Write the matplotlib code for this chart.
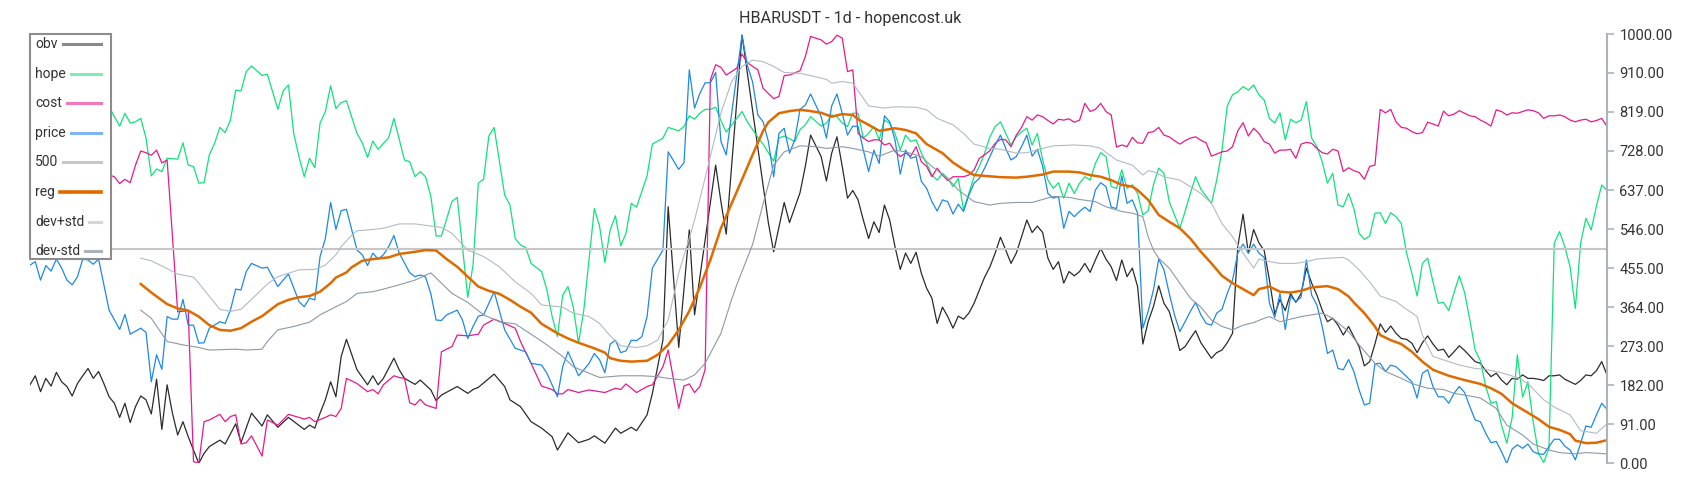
import matplotlib
matplotlib.use("Agg")
import matplotlib.pyplot as plt
from matplotlib.patches import Rectangle
from matplotlib.lines import Line2D

plt.rcParams['font.family'] = ['Roboto', 'DejaVu Sans']

# (day, value) vertices, 300 daily candles
obv = [(0,183),(1,204),(2,167),(3,198),(4,180),(5,212),(6,190),(7,179),(8,157),(9,186),(10,204),(11,221),(12,198),(13,214),(14,186),(15,155),(16,140),(17,107),(18,140),(19,95),(20,132),(21,157),(22,148),(23,115),(24,196),(25,79),(26,183),(27,117),(28,66),(29,97),(30,62),(31,31),(32,0),(33,23),(34,39),(36,54),(37,45),(39,92),(40,48),(42,117),(44,87),(45,113),(47,84),(49,107),(52,79),(53,89),(54,82),(55,117),(56,148),(57,190),(58,155),(59,249),(60,289),(62,218),(64,183),(65,204),(66,183),(67,198),(69,245),(70,218),(71,198),(73,184),(74,194),(76,171),(77,146),(78,159),(81,179),(83,163),(84,172),(85,177),(88,208),(90,179),(91,148),(93,132),(95,97),(97,82),(99,62),(100,31),(102,71),(104,48),(106,56),(107,64),(109,47),(111,82),(112,70),(114,84),(115,76),(117,113),(118,163),(120,287),(121,598),(123,270),(125,544),(126,346),(130,695),(131,610),(132,534),(135,998),(140,560),(141,493),(143,608),(144,561),(146,631),(147,692),(148,765),(150,715),(151,658),(152,723),(153,761),(154,692),(155,618),(156,636),(157,614),(158,567),(159,524),(160,563),(161,538),(162,602),(163,567),(164,505),(165,452),(166,490),(167,466),(168,492),(169,443),(170,408),(171,385),(172,326),(173,364),(174,342),(175,315),(176,343),(177,336),(178,350),(179,373),(180,404),(181,434),(182,458),(183,490),(184,527),(185,497),(186,466),(187,490),(188,528),(189,567),(190,538),(191,553),(192,538),(193,478),(194,452),(195,470),(196,420),(197,447),(198,437),(199,447),(200,466),(201,445),(202,474),(203,501),(204,476),(205,458),(206,426),(207,474),(208,435),(209,455),(210,412),(211,278),(212,330),(213,365),(214,414),(215,373),(216,354),(217,311),(218,263),(219,272),(220,291),(221,309),(222,281),(224,245),(225,258),(226,264),(227,281),(228,303),(229,505),(230,581),(231,490),(232,545),(233,514),(234,496),(235,427),(236,348),(237,382),(238,356),(239,396),(240,375),(241,396),(242,455),(243,420),(244,392),(245,357),(246,330),(247,338),(248,322),(249,299),(250,319),(251,295),(252,272),(253,227),(254,237),(255,278),(256,325),(257,305),(258,320),(259,303),(260,291),(261,289),(262,280),(263,258),(264,281),(265,297),(266,278),(267,263),(268,266),(269,247),(270,260),(271,274),(272,263),(273,250),(274,237),(275,233),(276,216),(277,202),(278,210),(279,194),(280,183),(281,198),(282,196),(283,206),(284,198),(285,198),(286,196),(287,193),(288,204),(289,204),(290,206),(291,196),(292,190),(293,184),(294,193),(295,206),(296,204),(297,216),(298,237),(299,206)]

hope = [(0,830),(2,850),(4,820),(6,855),(8,840),(10,865),(12,845),(14,840),(15,831),(16,808),(17,786),(18,816),(19,793),(20,796),(21,804),(22,758),(23,670),(24,686),(25,680),(26,711),(28,709),(29,747),(30,695),(31,692),(32,653),(33,654),(34,719),(35,746),(36,783),(37,771),(38,800),(39,870),(40,868),(41,913),(42,926),(43,915),(44,904),(45,907),(47,825),(48,868),(49,882),(50,769),(51,715),(52,668),(53,711),(54,689),(55,793),(56,820),(57,880),(58,827),(59,841),(60,845),(62,769),(63,747),(64,713),(65,751),(66,732),(68,759),(69,804),(70,755),(71,707),(72,703),(73,668),(74,680),(75,668),(76,622),(77,530),(78,530),(80,610),(81,620),(83,387),(84,462),(85,653),(86,662),(87,763),(88,783),(90,625),(91,602),(92,524),(93,509),(94,503),(95,466),(97,447),(98,404),(99,342),(100,295),(101,392),(102,412),(103,365),(104,280),(105,357),(107,594),(108,552),(109,468),(110,544),(111,577),(112,507),(113,536),(114,606),(115,597),(117,670),(118,744),(120,758),(121,783),(123,775),(124,785),(125,810),(126,802),(127,816),(128,825),(129,825),(130,830),(131,799),(132,772),(135,820),(136,796),(138,760),(139,744),(141,704),(142,758),(143,763),(145,750),(146,778),(147,789),(148,808),(150,786),(151,793),(152,812),(153,808),(154,793),(155,785),(156,816),(157,816),(158,758),(159,769),(160,785),(161,754),(162,800),(163,793),(164,769),(165,730),(166,765),(167,750),(168,754),(169,723),(170,699),(171,672),(172,660),(173,676),(174,664),(175,645),(176,664),(177,591),(178,629),(179,668),(180,692),(181,723),(182,761),(183,785),(184,796),(185,769),(186,742),(187,761),(188,773),(189,781),(190,742),(191,769),(192,707),(193,660),(194,641),(195,654),(196,618),(197,653),(198,629),(199,653),(200,668),(201,660),(202,699),(203,724),(204,715),(205,645),(206,641),(207,684),(208,641),(209,649),(210,629),(211,579),(212,589),(213,649),(214,688),(215,676),(216,610),(217,579),(218,548),(219,587),(220,629),(221,668),(222,639),(224,606),(225,660),(226,730),(227,833),(228,859),(229,866),(230,878),(231,870),(232,882),(233,859),(234,847),(235,804),(236,793),(237,817),(238,754),(239,802),(240,794),(241,800),(242,843),(243,758),(244,738),(245,703),(246,653),(247,676),(248,602),(249,598),(250,629),(251,594),(252,536),(253,522),(254,530),(255,583),(256,584),(257,559),(258,584),(259,575),(260,559),(261,490),(262,443),(263,390),(264,466),(265,478),(266,423),(267,373),(268,375),(269,356),(270,398),(271,437),(272,398),(273,334),(274,264),(275,239),(276,179),(277,140),(278,144),(279,89),(280,47),(281,105),(282,253),(283,154),(284,190),(285,97),(286,23),(287,2),(288,35),(289,513),(290,540),(291,505),(292,458),(293,361),(294,513),(295,571),(296,544),(297,600),(298,649),(299,636)]

cost = [(0,690),(3,700),(6,680),(9,700),(12,690),(14,675),(15,672),(16,668),(17,652),(18,662),(19,654),(20,695),(21,728),(22,724),(23,718),(24,730),(25,700),(26,707),(27,530),(28,353),(30,356),(31,4),(32,0),(33,97),(34,101),(36,114),(37,97),(38,109),(39,113),(40,45),(41,48),(42,64),(44,17),(45,101),(47,89),(49,114),(51,107),(52,103),(53,107),(54,97),(56,107),(57,113),(58,109),(59,128),(60,198),(62,186),(64,167),(65,172),(66,162),(67,183),(69,204),(70,200),(71,198),(72,141),(73,136),(74,149),(75,136),(77,128),(78,260),(80,272),(81,299),(83,297),(85,301),(86,322),(88,336),(90,326),(92,315),(93,284),(94,258),(95,233),(97,180),(99,172),(100,162),(101,162),(102,172),(104,165),(106,171),(108,167),(109,165),(111,175),(112,172),(113,185),(115,165),(117,179),(118,183),(120,225),(121,264),(123,128),(124,180),(125,185),(126,165),(127,179),(128,218),(129,894),(130,929),(131,923),(132,905),(134,921),(135,954),(136,934),(138,917),(139,874),(141,850),(142,855),(143,904),(144,905),(146,915),(147,948),(148,995),(150,987),(151,977),(152,983),(153,998),(154,991),(155,913),(156,917),(157,769),(158,758),(159,750),(160,754),(161,754),(162,742),(163,746),(164,727),(165,715),(166,723),(167,716),(168,738),(169,703),(170,692),(171,668),(172,688),(173,672),(174,659),(175,668),(177,668),(178,672),(179,684),(180,711),(181,719),(182,729),(183,746),(184,755),(185,754),(186,738),(187,765),(188,783),(189,808),(190,800),(191,812),(192,808),(193,799),(194,791),(195,802),(196,800),(197,803),(198,795),(199,800),(200,839),(201,820),(202,825),(203,839),(204,820),(205,812),(206,737),(207,742),(208,738),(209,760),(210,747),(211,746),(212,771),(213,773),(214,783),(215,765),(216,761),(217,752),(218,744),(219,752),(220,758),(221,761),(222,753),(223,747),(224,716),(226,726),(227,728),(228,738),(229,775),(230,794),(231,763),(232,781),(233,769),(234,750),(235,744),(236,723),(237,730),(238,730),(239,732),(240,711),(241,744),(242,748),(243,746),(244,734),(245,724),(246,721),(247,732),(248,728),(249,680),(250,689),(251,682),(252,678),(253,662),(254,692),(255,695),(256,825),(257,817),(258,825),(259,796),(260,783),(261,781),(262,773),(263,768),(264,771),(265,795),(266,791),(267,786),(268,821),(269,810),(270,814),(271,822),(272,816),(273,810),(274,808),(275,800),(276,794),(277,786),(278,824),(279,820),(280,812),(281,817),(282,816),(283,820),(284,824),(285,822),(286,817),(287,804),(288,810),(289,810),(290,812),(291,808),(292,800),(293,796),(294,800),(295,802),(296,796),(297,799),(298,804),(299,785)]

price = [(0,462),(1,470),(2,427),(3,461),(4,448),(5,476),(6,455),(7,427),(8,416),(9,435),(10,476),(11,474),(12,464),(13,476),(15,357),(17,312),(18,347),(19,301),(21,315),(22,305),(23,190),(24,253),(25,219),(26,342),(27,336),(28,336),(29,382),(30,322),(31,322),(32,280),(33,281),(34,315),(36,330),(37,326),(38,357),(39,406),(40,404),(41,447),(42,466),(44,455),(45,457),(47,412),(48,427),(49,441),(51,377),(52,365),(53,385),(54,381),(55,482),(56,524),(57,608),(58,545),(59,589),(60,592),(62,497),(63,486),(64,461),(65,490),(66,476),(67,486),(68,505),(69,531),(70,490),(72,444),(73,435),(74,439),(75,434),(76,395),(77,334),(78,333),(79,346),(81,357),(82,334),(83,291),(84,319),(85,343),(86,346),(87,373),(88,400),(90,311),(92,268),(94,260),(95,233),(97,229),(98,210),(100,155),(101,225),(102,260),(103,233),(104,204),(105,218),(106,233),(107,256),(108,241),(109,211),(110,278),(111,287),(112,258),(113,262),(114,287),(115,286),(116,295),(117,342),(118,455),(120,497),(121,726),(123,685),(124,701),(125,917),(126,828),(127,862),(128,887),(129,887),(130,911),(131,750),(132,719),(135,998),(136,928),(137,889),(138,812),(139,796),(140,750),(141,668),(142,769),(143,781),(144,723),(145,754),(146,825),(147,835),(148,861),(150,808),(151,758),(152,833),(153,861),(154,816),(155,765),(156,786),(157,785),(158,730),(159,680),(160,730),(161,699),(162,810),(163,796),(164,754),(165,674),(166,730),(167,711),(168,715),(169,657),(170,641),(171,610),(172,588),(173,614),(174,610),(175,581),(176,604),(177,587),(178,625),(179,653),(180,664),(181,688),(182,715),(183,742),(184,765),(185,734),(186,707),(187,715),(188,738),(189,765),(190,716),(191,732),(192,692),(193,629),(194,618),(195,622),(196,548),(197,587),(198,575),(199,587),(200,597),(201,587),(202,637),(203,654),(204,645),(205,597),(206,594),(207,670),(208,606),(209,614),(210,583),(211,315),(212,354),(213,404),(214,476),(215,451),(216,396),(217,346),(218,307),(219,330),(220,354),(221,375),(222,346),(223,326),(224,322),(225,350),(226,359),(227,396),(228,427),(229,490),(230,511),(231,490),(232,511),(233,490),(234,480),(235,373),(236,340),(237,396),(238,312),(239,389),(240,377),(241,387),(242,474),(243,392),(244,369),(245,319),(246,256),(247,264),(248,221),(249,218),(250,242),(251,214),(252,171),(253,136),(254,140),(255,232),(256,233),(257,214),(258,229),(259,225),(260,214),(261,202),(262,190),(263,152),(264,210),(265,218),(266,179),(267,155),(268,155),(269,140),(270,163),(271,179),(272,165),(273,132),(274,101),(275,97),(276,70),(277,48),(278,51),(279,27),(280,0),(281,33),(282,43),(283,35),(284,45),(285,27),(286,22),(287,21),(288,39),(289,56),(290,56),(291,40),(292,31),(293,8),(294,47),(295,87),(296,84),(297,113),(298,140),(299,126)]

level = 500

reg = [(21,418),(23,398),(26,371),(28,361),(30,356),(32,342),(34,322),(36,311),(38,309),(40,315),(42,330),(44,343),(47,371),(49,381),(51,387),(53,390),(55,400),(57,420),(58,433),(60,445),(61,457),(63,472),(65,476),(68,480),(70,488),(73,493),(75,497),(77,496),(79,476),(81,458),(83,435),(85,412),(87,402),(89,395),(91,381),(93,365),(95,351),(97,325),(100,303),(102,291),(104,281),(107,268),(109,258),(110,245),(112,239),(114,237),(117,239),(119,253),(121,276),(123,311),(125,355),(127,410),(129,474),(131,548),(134,633),(137,719),(139,775),(140,795),(142,816),(144,821),(146,824),(148,821),(150,817),(152,808),(154,814),(156,812),(157,802),(159,789),(161,775),(164,781),(166,777),(168,769),(170,744),(173,723),(175,701),(177,685),(179,672),(182,669),(184,667),(187,666),(189,668),(192,673),(194,680),(197,680),(199,678),(201,672),(203,668),(205,660),(207,649),(209,645),(210,637),(212,614),(214,579),(216,563),(218,548),(220,524),(222,493),(224,466),(226,437),(228,420),(230,406),(232,392),(233,406),(235,412),(237,400),(239,398),(241,402),(243,410),(246,413),(248,406),(250,389),(251,375),(253,350),(255,319),(256,299),(258,287),(260,278),(262,260),(264,237),(266,218),(269,204),(272,194),(275,185),(277,175),(279,162),(281,140),(284,118),(286,103),(288,85),(290,78),(292,68),(293,53),(295,47),(297,48),(299,54)]

dev_hi = [(21,478),(23,472),(25,460),(28,441),(31,434),(32,420),(34,389),(36,359),(38,354),(40,359),(42,382),(45,418),(47,435),(49,443),(51,451),(54,452),(56,462),(58,486),(59,505),(61,532),(62,542),(65,545),(67,548),(70,558),(73,558),(76,553),(78,550),(80,536),(83,497),(86,482),(89,458),(92,423),(95,396),(97,369),(101,364),(103,350),(106,342),(108,326),(110,297),(112,274),(115,270),(117,274),(119,287),(121,334),(123,443),(126,567),(128,665),(131,816),(133,889),(135,925),(137,940),(139,936),(141,925),(143,911),(146,909),(149,901),(151,895),(152,886),(154,890),(156,886),(158,851),(159,833),(162,828),(164,831),(168,830),(170,824),(172,804),(175,789),(177,769),(179,744),(182,734),(184,732),(187,723),(189,724),(192,734),(194,740),(198,742),(201,740),(203,734),(206,707),(209,695),(211,672),(212,682),(213,680),(215,668),(218,660),(220,645),(222,629),(224,606),(226,559),(228,528),(230,490),(232,455),(233,476),(235,470),(237,466),(240,466),(242,470),(244,476),(246,478),(249,480),(250,474),(252,451),(254,423),(256,390),(259,377),(261,359),(263,342),(264,299),(266,249),(269,237),(271,229),(274,221),(276,219),(279,211),(282,200),(284,186),(287,148),(289,131),(292,113),(294,76),(297,70),(299,92)]

dev_lo = [(21,357),(23,338),(26,284),(29,276),(32,270),(34,264),(39,266),(41,264),(44,266),(45,284),(47,311),(50,319),(53,329),(55,346),(58,365),(60,377),(62,396),(65,400),(67,406),(70,416),(73,427),(76,444),(78,420),(80,396),(83,375),(86,346),(89,330),(92,325),(95,301),(98,276),(101,249),(103,225),(106,210),(108,200),(112,204),(116,204),(119,202),(121,198),(124,194),(126,206),(128,233),(131,303),(133,381),(134,416),(137,510),(139,605),(141,695),(143,726),(146,740),(149,738),(151,734),(154,738),(156,734),(159,726),(161,716),(164,730),(166,726),(169,715),(171,692),(174,664),(176,637),(179,610),(182,602),(184,606),(187,608),(190,608),(194,622),(197,620),(199,615),(202,610),(204,598),(207,587),(209,583),(211,575),(212,528),(213,497),(214,478),(216,455),(218,420),(220,385),(222,364),(224,334),(226,319),(228,311),(230,322),(232,328),(234,338),(235,342),(237,330),(239,336),(241,342),(243,346),(245,350),(247,338),(250,307),(252,276),(255,233),(257,214),(260,198),(262,186),(265,175),(268,172),(270,163),(273,157),(275,152),(278,128),(280,89),(283,66),(285,45),(288,31),(290,25),(293,22),(295,25),(299,22)]

n_days = 300
yticks = [0, 91, 182, 273, 364, 455, 546, 637, 728, 819, 910, 1000]
names = ['obv', 'hope', 'cost', 'price', '500', 'reg', 'dev+std', 'dev-std']
title = 'HBARUSDT - 1d - hopencost.uk'

W, H = 1700, 500
fig = plt.figure(figsize=(W / 100, H / 100), dpi=100)
ax = fig.add_axes([30 / W, 36.7 / H, 1577 / W, 429 / H])
ax.set_xlim(0, n_days - 1)
ax.set_ylim(0, 1000)

def draw(series, **kw):
    d, v = zip(*series)
    ax.plot(d, v, **kw)

draw(obv, color='#2b2b2b', lw=0.9)
draw(hope, color='#10e27a', lw=0.9)
draw(cost, color='#e8198b', lw=0.9)
draw(price, color='#1e88e5', lw=0.9)
ax.axhline(level, color='#c6c6c6', lw=1.5)
draw(reg, color='#df6a00', lw=1.8)
draw(dev_hi, color='#b3bac2', lw=0.8)
draw(dev_lo, color='#8d99a6', lw=0.8)

for s in ['left', 'top', 'bottom']:
    ax.spines[s].set_visible(False)
ax.spines['right'].set_color('#aab4be')
ax.spines['right'].set_linewidth(1.5)
ax.set_xticks([])
ax.yaxis.tick_right()
ax.set_yticks(yticks)
ax.set_yticklabels(['%.2f' % t for t in yticks])
ax.tick_params(axis='y', length=5, width=1.2, color='#aab4be',
               labelcolor='#333333', labelsize=10.5, pad=4)

fig.text(0.5, 1 - 19 / H, title, ha='center', va='center',
         fontsize=11.6, color='#333333')

# legend drawn by hand: label left, swatch right
leg_cols = ['#8a8a8a', '#7ceeb2', '#f07ab8', '#7db7ee', '#c8c8c8',
            '#df6a00', '#d3d7db', '#aab2ba']
leg_lw = [2.2, 2.2, 2.2, 2.2, 2.2, 2.6, 2.2, 2.2]
fig.add_artist(Rectangle((30 / W, 1 - 259 / H), 81 / W, 225 / H,
                         transform=fig.transFigure, fc='white',
                         ec='#8c8c8c', lw=1.5, zorder=10))
fig.canvas.draw()
r = fig.canvas.get_renderer()
for k, name in enumerate(names):
    y = 44 + k * 29.6
    t = fig.text(35 / W, 1 - y / H, name, ha='left', va='center',
                 fontsize=10, color='#333333', zorder=11)
    x1 = t.get_window_extent(r).x1 + 5
    fig.add_artist(Line2D([x1 / W, 101 / W], [1 - y / H, 1 - y / H],
                          transform=fig.transFigure, color=leg_cols[k],
                          lw=leg_lw[k], zorder=11))

fig.savefig('out.png', dpi=100)
